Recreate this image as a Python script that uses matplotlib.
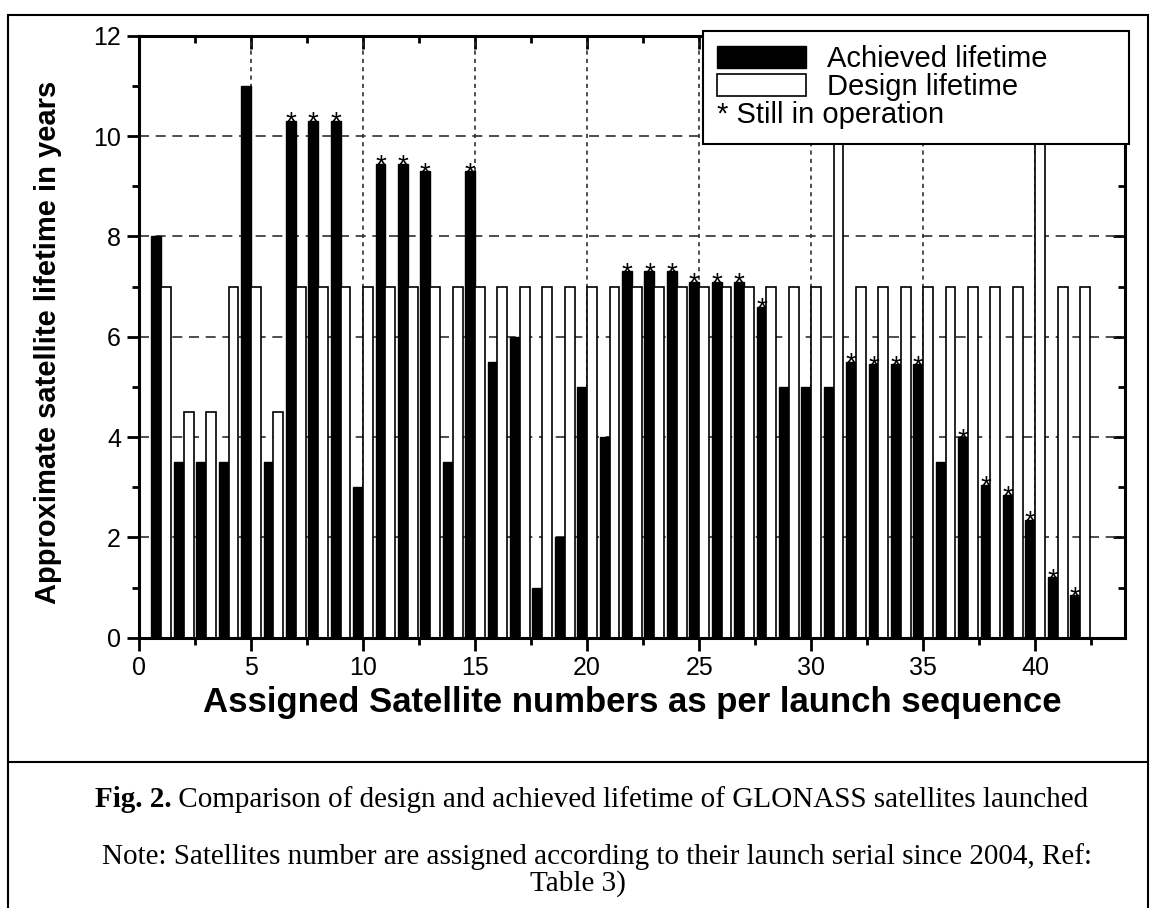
import numpy as np
import matplotlib
matplotlib.use("Agg")
from matplotlib import pyplot as plt
from matplotlib.patches import Patch, Rectangle
from matplotlib.text import Text
from matplotlib.ticker import MultipleLocator

# satellite number -> achieved / design lifetime (years)
sat_no = list(range(1, 43))
achieved = [8.0, 3.5, 3.5, 3.5, 11.0, 3.5, 10.3, 10.3, 10.3, 3.0,
            9.45, 9.45, 9.3, 3.5, 9.3, 5.5, 6.0, 1.0, 2.0, 5.0,
            4.0, 7.3, 7.3, 7.3, 7.1, 7.1, 7.1, 6.6, 5.0, 5.0,
            5.0, 5.5, 5.45, 5.45, 5.45, 3.5, 4.0, 3.05, 2.85, 2.35,
            1.2, 0.85]
design = [7, 4.5, 4.5, 7, 7, 4.5, 7, 7, 7, 7,
          7, 7, 7, 7, 7, 7, 7, 7, 7, 7,
          7, 7, 7, 7, 7, 7, 7, 7, 7, 7,
          12, 7, 7, 7, 7, 7, 7, 7, 7, 12,
          7, 7]
in_operation = [7, 8, 9, 11, 12, 13, 15, 22, 23, 24, 25, 26, 27, 28,
                32, 33, 34, 35, 37, 38, 39, 40, 41, 42]

plt.rcParams["font.family"] = ["Liberation Sans", "DejaVu Sans"]


class NoteHandle:
    def __init__(self, text):
        self.text = text


class NoteHandler:
    # draws the whole note text where the patch would normally go,
    # on the same baseline as the other legend labels
    def legend_artist(self, legend, orig_handle, fontsize, handlebox):
        t = Text(-handlebox.xdescent, 0, orig_handle.text, fontsize=fontsize,
                 ha="left", va="baseline", family="Liberation Sans")
        handlebox.add_artist(t)
        return t


fig = plt.figure(figsize=(11.56, 9.08), dpi=100)
ax = fig.add_axes([0.1202, 0.2977, 0.8529, 0.663])

x = np.array(sat_no)
w = 0.44
ax.bar(x - w / 2, achieved, width=w, color="black", edgecolor="black", lw=1, zorder=2)
ax.bar(x + w / 2, design, width=w, color="white", edgecolor="black", lw=1.2, zorder=2)

for n in in_operation:
    ax.annotate("*", (n - w / 2, achieved[n - 1]), xytext=(0, -7),
                textcoords="offset points", ha="center", va="baseline", fontsize=20)

ax.set_xlim(0, 44)
ax.set_ylim(0, 12)
ax.xaxis.set_major_locator(MultipleLocator(5))
ax.xaxis.set_minor_locator(MultipleLocator(2.5))
ax.yaxis.set_major_locator(MultipleLocator(2))
ax.yaxis.set_minor_locator(MultipleLocator(1))

ax.set_axisbelow(True)
ax.yaxis.grid(True, which="major", ls=(0, (6, 4)), color="#303030", lw=1.2)
ax.xaxis.grid(True, which="major", ls=(0, (2.5, 2.5)), color="#303030", lw=1.2)

for s in ax.spines.values():
    s.set_linewidth(2.2)
ax.tick_params(which="major", direction="out", length=9, width=2, labelsize=18, pad=4)
ax.tick_params(which="minor", direction="out", length=5, width=2)

# inward ticks on top and right
top = ax.secondary_xaxis("top")
top.xaxis.set_major_locator(MultipleLocator(5))
top.xaxis.set_minor_locator(MultipleLocator(2.5))
top.tick_params(which="major", direction="in", length=9, width=2, labeltop=False)
top.tick_params(which="minor", direction="in", length=5, width=2)
right = ax.secondary_yaxis("right")
right.yaxis.set_major_locator(MultipleLocator(2))
right.yaxis.set_minor_locator(MultipleLocator(1))
right.tick_params(which="major", direction="in", length=9, width=2, labelright=False)
right.tick_params(which="minor", direction="in", length=5, width=2)
for sec in (top, right):
    for s in sec.spines.values():
        s.set_visible(False)

ax.set_xlabel("Assigned Satellite numbers as per launch sequence",
              fontsize=25, fontweight="bold")
ax.xaxis.set_label_coords(0.5, -0.08)
ax.set_ylabel("Approximate satellite lifetime in years", fontsize=21, fontweight="bold")
ax.yaxis.set_label_coords(-0.078, 0.49)

handles = [Patch(facecolor="black", edgecolor="black"),
           Patch(facecolor="white", edgecolor="black", lw=1.2),
           NoteHandle("* Still in operation")]
labels = ["Achieved lifetime", "Design lifetime", " "]
leg = fig.legend(handles, labels, loc="upper left", bbox_to_anchor=(0.572, 1.008, 0.432, 0.0),
                 bbox_transform=ax.transAxes, mode="expand",
                 handler_map={NoteHandle: NoteHandler()},
                 fontsize=21, frameon=True, fancybox=False, edgecolor="black",
                 framealpha=1, borderaxespad=0, handlelength=3.05, handleheight=0.78,
                 handletextpad=0.7, labelspacing=0.0, borderpad=0.5)
leg.get_frame().set_linewidth(1.5)

# caption below the chart
fig_tag = fig.text(0.082, 0.111, "Fig. 2.", ha="left", va="baseline", fontsize=21,
                   fontweight="bold", family="Liberation Serif")
fig.canvas.draw()
tag_end = fig_tag.get_window_extent().x1 / fig.bbox.width
fig.text(tag_end, 0.111,
         " Comparison of design and achieved lifetime of GLONASS satellites launched",
         fontsize=21, family="Liberation Serif", ha="left", va="baseline")
fig.text(0.5165, 0.0485,
         "Note: Satellites number are assigned according to their launch serial since 2004, Ref:",
         ha="center", va="baseline", fontsize=21, family="Liberation Serif")
fig.text(0.5, 0.019, "Table 3)", ha="center", va="baseline", fontsize=21,
         family="Liberation Serif")

# outer frame with divider between chart and caption
fig.add_artist(Rectangle((0.0069, -0.01), 0.9862, 0.9935, transform=fig.transFigure,
                         fill=False, edgecolor="black", lw=1.5))
fig.add_artist(plt.Line2D([0.0069, 0.9931], [0.1608, 0.1608], transform=fig.transFigure,
                          color="black", lw=1.5))

fig.savefig("out.png", dpi=100)
